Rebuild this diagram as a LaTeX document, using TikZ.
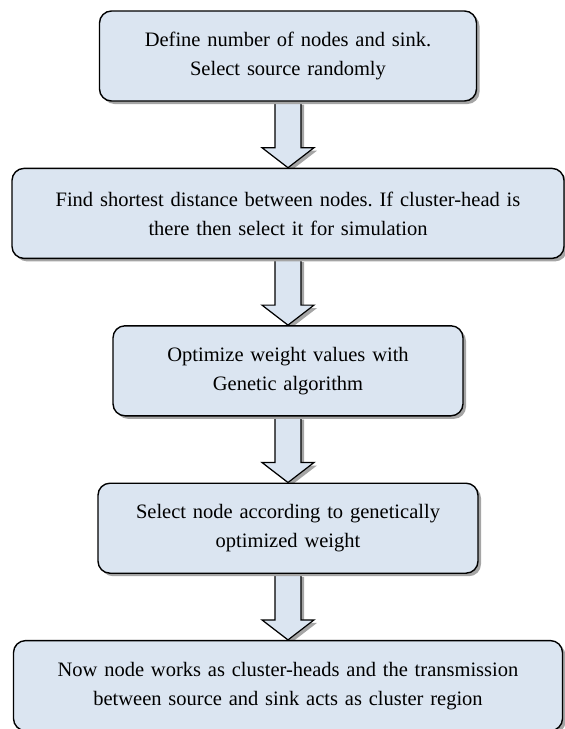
\documentclass[tikz,border=0pt]{standalone}
\usepackage{fontspec}
\setmainfont{Liberation Serif}
\usepackage{tikz}
\usetikzlibrary{
  positioning,
  shadows,
  backgrounds,
  calc
}
\definecolor{BoxBlue}{RGB}{219,229,241}
\definecolor{ShadeGray}{RGB}{165,165,165}
\tikzset{
  %%── flow boxes ─────────────────────────────────────────────
  stepbox/.style = {
    rectangle, rounded corners = 12pt,
    draw = black, line width = 1.4pt, fill = BoxBlue,
    drop shadow = {shadow xshift = 3pt, shadow yshift = -3pt,
                   fill = ShadeGray, opacity = 1},
    minimum height = 90pt, inner xsep = 10pt,
    align = center, font = \fontsize{20.5}{29}\selectfont\frenchspacing
  },
  %%── hollow block arrow between two boxes ───────────────────
  blockarr/.style = {
    draw = black, line width = 1.2pt, fill = BoxBlue,
    drop shadow = {shadow xshift = 3pt, shadow yshift = -3pt,
                   fill = ShadeGray, opacity = 1},
    to path = {
      let \p1 = (\tikztostart), \p2 = (\tikztotarget) in
      (\x1-13pt,\y1) -- (\x1-13pt,\y2+20pt) -- (\x1-26pt,\y2+20pt)
      -- (\x1,\y2) -- (\x1+26pt,\y2+20pt) -- (\x1+13pt,\y2+20pt)
      -- (\x1+13pt,\y1)
    }
  },
}

\begin{document}
\begin{tikzpicture}[node distance = 66pt]

  \useasboundingbox (0,0) rectangle (565pt,-729pt);

  \node[stepbox, text width = 357pt] (define) at (288pt,-56pt)
    {Define number of nodes and sink.\\Select source randomly};
  \node[stepbox, text width = 532pt, below=of define] (shortest)
    {Find shortest distance between nodes. If cluster-head is\\there then select it for simulation};
  \node[stepbox, text width = 330pt, below=of shortest] (optimize)
    {Optimize weight values with\\Genetic algorithm};
  \node[stepbox, text width = 360pt, below=of optimize] (selnode)
    {Select node according to genetically\\optimized weight};
  \node[stepbox, text width = 529pt, below=of selnode] (cluster)
    {Now node works as cluster-heads and the transmission\\between source and sink acts as cluster region};

  %% block arrows
  \begin{scope}[on background layer]
    \draw[blockarr] (define.south)   to (shortest.north);
    \draw[blockarr] (shortest.south) to (optimize.north);
    \draw[blockarr] (optimize.south) to (selnode.north);
    \draw[blockarr] (selnode.south)  to (cluster.north);
  \end{scope}

\end{tikzpicture}
\end{document}
